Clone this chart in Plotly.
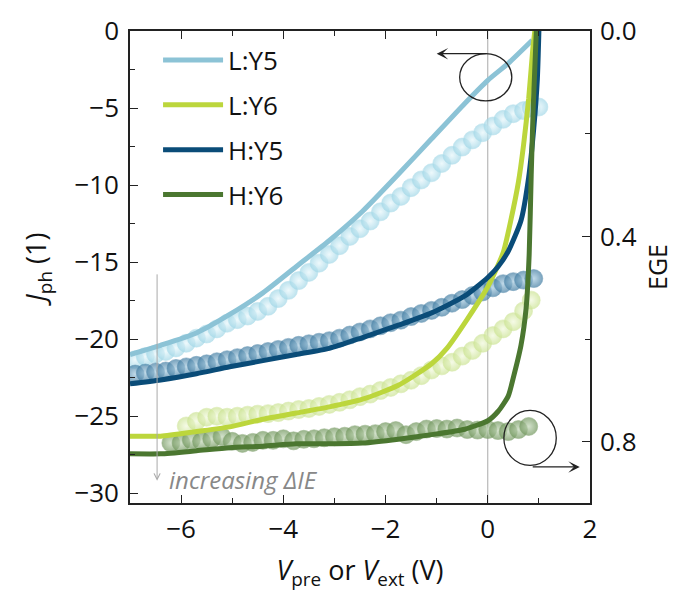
import plotly.graph_objects as go

# ---------------- data ----------------
# Lines: photocurrent J_ph (left axis) vs voltage
ly5_v = [-7.0, -6.4, -5.7, -5.05, -4.4, -3.75, -3.1, -2.45, -1.75, -1.1, -0.45, 0.0, 0.4, 0.87]
ly5_j = [-21.0, -20.4, -19.6, -18.4, -17.0, -15.3, -13.6, -11.7, -9.3, -7.0, -4.7, -3.2, -2.1, -0.6]

ly6_v = [-7.0, -6.4, -5.7, -5.05, -4.4, -3.75, -3.1, -2.45, -1.75, -1.1, -0.8, -0.4, 0.0, 0.3, 0.45, 0.6, 0.7, 0.8, 0.88, 0.92]
ly6_j = [-26.3, -26.3, -26.0, -25.7, -25.2, -24.8, -24.4, -23.9, -23.0, -21.6, -20.6, -18.7, -16.6, -14.4, -12.3, -9.8, -7.4, -4.4, -1.2, 0.0]

hy5_v = [-7.0, -6.4, -5.7, -5.05, -4.4, -3.75, -3.1, -2.45, -1.75, -1.1, -0.45, 0.0, 0.2, 0.4, 0.65, 0.8, 0.9, 0.97, 1.0]
hy5_j = [-22.9, -22.65, -22.25, -21.8, -21.4, -21.0, -20.6, -19.9, -19.1, -18.3, -17.2, -16.0, -15.3, -14.3, -12.3, -9.5, -6.3, -3.1, 0.0]

hy6_v = [-7.0, -6.4, -5.7, -5.05, -4.4, -3.75, -3.1, -2.45, -1.75, -1.1, -0.45, 0.0, 0.2, 0.4, 0.5, 0.65, 0.75, 0.81, 0.85, 0.89, 0.95]
hy6_j = [-27.45, -27.45, -27.25, -27.05, -26.95, -26.8, -26.8, -26.75, -26.5, -26.2, -25.85, -25.3, -24.7, -23.7, -22.5, -20.4, -18.0, -14.5, -9.3, -4.9, 0.0]

# Markers: EGE (right axis, reversed) vs voltage
ly5_mv = [-6.9, -6.7, -6.5, -6.3, -6.1, -5.9, -5.7, -5.5, -5.3, -5.1, -4.9, -4.7, -4.5, -4.3,
          -4.1, -3.9, -3.7, -3.5, -3.3, -3.1, -2.9, -2.7, -2.5, -2.3, -2.1, -1.9, -1.7, -1.5,
          -1.3, -1.1, -0.9, -0.7, -0.5, -0.3, -0.1, 0.1, 0.3, 0.5, 0.7, 0.85, 1.0]
ly5_ege = [0.640, 0.634, 0.629, 0.624, 0.617, 0.608, 0.598, 0.590, 0.580, 0.569, 0.562, 0.555, 0.546, 0.536,
           0.521, 0.505, 0.486, 0.470, 0.452, 0.435, 0.418, 0.400, 0.385, 0.370, 0.352, 0.335, 0.322, 0.305,
           0.290, 0.276, 0.258, 0.242, 0.226, 0.212, 0.198, 0.185, 0.172, 0.161, 0.155, 0.150, 0.148]

hy5_mv = [-6.9, -6.7, -6.5, -6.3, -6.1, -5.9, -5.7, -5.5, -5.3, -5.1, -4.9, -4.7, -4.5, -4.3,
          -4.1, -3.9, -3.7, -3.5, -3.3, -3.1, -2.9, -2.7, -2.5, -2.3, -2.1, -1.9, -1.7, -1.5,
          -1.3, -1.1, -0.9, -0.7, -0.5, -0.3, -0.1, 0.1, 0.3, 0.5, 0.7, 0.9]
hy5_ege = [0.668, 0.666, 0.664, 0.662, 0.657, 0.654, 0.651, 0.648, 0.644, 0.640, 0.636, 0.632, 0.628, 0.624,
           0.620, 0.616, 0.612, 0.609, 0.606, 0.603, 0.598, 0.592, 0.586, 0.580, 0.574, 0.568, 0.563, 0.556,
           0.550, 0.544, 0.538, 0.530, 0.523, 0.515, 0.508, 0.500, 0.492, 0.488, 0.485, 0.482]

ly6_mv = [-5.9, -5.7, -5.5, -5.3, -5.1, -4.9, -4.7, -4.5, -4.3, -4.1, -3.9, -3.7, -3.5, -3.3,
          -3.1, -2.9, -2.7, -2.5, -2.3, -2.1, -1.9, -1.7, -1.5, -1.3, -1.1, -0.9, -0.7, -0.5,
          -0.3, -0.1, 0.1, 0.3, 0.5, 0.7, 0.85]
ly6_ege = [0.769, 0.760, 0.752, 0.750, 0.752, 0.750, 0.748, 0.746, 0.745, 0.743, 0.740, 0.737, 0.735, 0.731,
           0.727, 0.723, 0.718, 0.712, 0.707, 0.700, 0.694, 0.687, 0.680, 0.671, 0.660, 0.652, 0.645, 0.633,
           0.622, 0.608, 0.593, 0.580, 0.566, 0.545, 0.524]

hy6_mv = [-6.2, -6.0, -5.8, -5.6, -5.4, -5.2, -5.0, -4.8, -4.6, -4.4, -4.2, -4.0, -3.8, -3.6,
          -3.4, -3.2, -3.0, -2.8, -2.6, -2.4, -2.2, -2.0, -1.8, -1.6, -1.4, -1.2, -1.0, -0.8,
          -0.6, -0.4, -0.2, 0.0, 0.2, 0.4, 0.6, 0.8]
hy6_ege = [0.802, 0.802, 0.796, 0.799, 0.794, 0.790, 0.799, 0.803, 0.801, 0.797, 0.797, 0.794, 0.798, 0.795,
           0.794, 0.792, 0.790, 0.789, 0.786, 0.785, 0.784, 0.780, 0.778, 0.786, 0.780, 0.775, 0.774, 0.775,
           0.773, 0.776, 0.777, 0.776, 0.778, 0.780, 0.776, 0.770]

names = ["L:Y5", "L:Y6", "H:Y5", "H:Y6"]
line_colors = ["#8CC3D6", "#BCD63C", "#0A4C78", "#4B7730"]
mk_colors = ["#A3D8E8", "#CCE494", "#457FA4", "#73985F"]
mk_centers = ["#E8F7FB", "#F2F9DE", "#A9CCE0", "#C3D7B8"]

lines = [(ly5_v, ly5_j), (ly6_v, ly6_j), (hy5_v, hy5_j), (hy6_v, hy6_j)]
markers = [(ly5_mv, ly5_ege), (ly6_mv, ly6_ege), (hy5_mv, hy5_ege), (hy6_mv, hy6_ege)]

FONT = "Open Sans"
FS = 26

fig = go.Figure()

# markers on EGE axis (y2, base axis)
for (mv, me), c, cc, n in zip(markers, mk_colors, mk_centers, names):
    fig.add_trace(go.Scatter(
        x=mv, y=me, yaxis="y2", mode="markers", showlegend=False, name=n + " EGE",
        marker=dict(size=18, color=c, opacity=0.72,
                    gradient=dict(type="radial", color=cc),
                    line=dict(width=0.6, color=c)),
    ))

# lines on J_ph axis (y, overlaid on top)
for (v, j), c, n in zip(lines, line_colors, names):
    fig.add_trace(go.Scatter(
        x=v, y=j, yaxis="y", mode="lines", name=n, legendgroup=n,
        line=dict(color=c, width=5, shape="spline", smoothing=0.6),
    ))

axis_common = dict(
    showline=True, linecolor="#222", linewidth=1.6, ticks="inside", ticklen=8,
    tickwidth=1.4, tickcolor="#222", showgrid=False, zeroline=False,
    tickfont=dict(family=FONT, size=FS, color="#111"),
)

fig.update_layout(
    width=684, height=604,
    margin=dict(l=130, r=94, t=24, b=101),
    paper_bgcolor="white", plot_bgcolor="white",
    font=dict(family=FONT, size=FS, color="#111"),
    xaxis=dict(range=[-7, 2], tickvals=[-6, -4, -2, 0, 2], mirror="ticks", ticklabelstandoff=2,
               minor=dict(dtick=1, tick0=0, ticks="inside", ticklen=5, tickcolor="#222", tickwidth=1.2),
               title=dict(text="<i>V</i><sub>pre</sub> or <i>V</i><sub>ext</sub> (V)",
                          font=dict(family=FONT, size=27), standoff=16),
               **axis_common),
    yaxis=dict(range=[-30.64, 0], tickvals=[-30, -25, -20, -15, -10, -5, 0],
               overlaying="y2", side="left", anchor="x", ticklabelstandoff=4,
               minor=dict(dtick=2.5, tick0=0, ticks="inside", ticklen=5, tickcolor="#222", tickwidth=1.2),
               title=dict(text="<i>J</i><sub>ph</sub> (1)", font=dict(family=FONT, size=27), standoff=20),
               **axis_common),
    yaxis2=dict(range=[0.919, 0], tickvals=[0.0, 0.4, 0.8], ticktext=["0.0", "0.4", "0.8"],
                side="right", anchor="x", ticklabelstandoff=3,
                minor=dict(dtick=0.2, tick0=0, ticks="inside", ticklen=5, tickcolor="#222", tickwidth=1.2),
                title=dict(text="EGE", font=dict(family=FONT, size=25), standoff=14),
                **axis_common),
    legend=dict(x=0.061, y=0.988, xanchor="left", yanchor="top", bgcolor="rgba(0,0,0,0)",
                font=dict(family=FONT, size=FS, color="#111"), traceorder="grouped",
                tracegroupgap=8, itemwidth=60),
    showlegend=True,
)

# vertical guide at V = 0
fig.add_shape(type="line", x0=0, x1=0, y0=0, y1=1, xref="x", yref="paper",
              line=dict(color="#AAAAAA", width=1), layer="below")

# circles marking axis assignment
fig.add_shape(type="circle", xref="x", yref="y", x0=-0.55, x1=0.47, y0=-1.47, y1=-4.54,
              line=dict(color="#222", width=1.3))
fig.add_shape(type="circle", xref="x", yref="y", x0=0.315, x1=1.34, y0=-24.63, y1=-28.2,
              line=dict(color="#222", width=1.3))

# arrows from circles
fig.add_annotation(x=-1.0, y=-1.47, ax=0.0, ay=-1.47, xref="x", yref="y", axref="x", ayref="y",
                   text="", showarrow=True, arrowhead=3, arrowsize=1.6, arrowwidth=1.2, arrowcolor="#222")
fig.add_annotation(x=1.8, y=-28.3, ax=0.85, ay=-28.3, xref="x", yref="y", axref="x", ayref="y",
                   text="", showarrow=True, arrowhead=3, arrowsize=1.6, arrowwidth=1.2, arrowcolor="#222")

# increasing ΔIE arrow and label
fig.add_annotation(x=-6.47, y=-29.2, ax=-6.47, ay=-15.7, xref="x", yref="y", axref="x", ayref="y",
                   text="", showarrow=True, arrowhead=5, arrowsize=1.2, arrowwidth=1, arrowcolor="#AAAAAA")
fig.add_annotation(x=-6.28, y=-29.1, xref="x", yref="y", text="<i>increasing ΔIE</i>",
                   showarrow=False, xanchor="left", yanchor="middle",
                   font=dict(family=FONT, size=24, color="#888888"))

fig.write_html("out.html")
